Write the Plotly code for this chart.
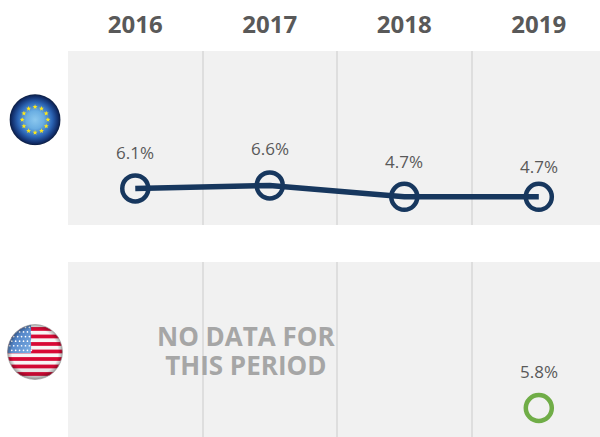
import base64
import math
import plotly.graph_objects as go
from plotly.subplots import make_subplots

YEARS = ["2016", "2017", "2018", "2019"]
EU_VALUES = [6.1, 6.6, 4.7, 4.7]
US_YEARS = ["2019"]
US_VALUES = [5.8]
NO_DATA_LINES = ["NO DATA FOR", "THIS PERIOD"]

W, H = 600, 437
NAVY = "#17375e"
GREEN = "#70ad47"
TEXT = "#595959"
PANEL = "#f1f1f1"
GRID = "#dedede"
EU_LABEL_SHIFTS = [36, 37, 35, 30]


def star(cx, cy, r):
    pts = []
    for i in range(10):
        a = -math.pi / 2 + i * math.pi / 5
        rr = r if i % 2 == 0 else r * 0.42
        pts.append(f"{cx + rr * math.cos(a):.2f},{cy + rr * math.sin(a):.2f}")
    return f'<polygon points="{" ".join(pts)}" fill="#ffe81a"/>'


def eu_flag():
    stars = "".join(
        star(50 + 25 * math.cos(i * math.pi / 6), 50 + 25 * math.sin(i * math.pi / 6), 5)
        for i in range(12)
    )
    svg = (
        '<svg xmlns="http://www.w3.org/2000/svg" width="200" height="200" viewBox="0 0 100 100">'
        '<defs><radialGradient id="g" cx="50%" cy="50%" r="50%">'
        '<stop offset="0" stop-color="#8cc8ee"/><stop offset="0.35" stop-color="#6aaee2"/>'
        '<stop offset="0.68" stop-color="#2b64b4"/><stop offset="0.9" stop-color="#12306e"/>'
        '<stop offset="1" stop-color="#0b1c40"/></radialGradient></defs>'
        '<circle cx="50" cy="50" r="49.5" fill="url(#g)"/>' + stars + "</svg>"
    )
    return "data:image/svg+xml;base64," + base64.b64encode(svg.encode()).decode()


def us_flag():
    stripes = ""
    for i in range(8):
        y = 5.5 + i * 13.4
        stripes += f'<rect x="0" y="{y:.1f}" width="100" height="6.7" fill="#d80a36"/>'
    stars = ""
    for r in range(6):
        for c in range(6):
            stars += f'<circle cx="{5 + c * 7 + (r % 2) * 3.5:.1f}" cy="{6 + r * 8.2:.1f}" r="1.5" fill="#ffffff"/>'
    svg = (
        '<svg xmlns="http://www.w3.org/2000/svg" width="200" height="200" viewBox="0 0 100 100">'
        '<defs><clipPath id="c"><circle cx="50" cy="50" r="49"/></clipPath>'
        '<linearGradient id="b" x1="0" y1="0" x2="1" y2="1"><stop offset="0" stop-color="#2f5fae"/>'
        '<stop offset="1" stop-color="#7fb2e6"/></linearGradient>'
        '<radialGradient id="s" cx="50%" cy="50%" r="50%"><stop offset="0.82" stop-color="#000" stop-opacity="0"/>'
        '<stop offset="1" stop-color="#000" stop-opacity="0.35"/></radialGradient>'
        '<linearGradient id="v" x1="0" y1="0" x2="0" y2="1"><stop offset="0.7" stop-color="#000" stop-opacity="0"/>'
        '<stop offset="1" stop-color="#000" stop-opacity="0.15"/></linearGradient></defs>'
        '<g clip-path="url(#c)"><rect width="100" height="100" fill="#f8f6f6"/>' + stripes +
        '<rect x="0" y="0" width="43" height="52" fill="url(#b)"/>' + stars +
        '<rect width="100" height="100" fill="url(#v)"/>'
        '<rect width="100" height="100" fill="url(#s)"/></g>'
        '<circle cx="50" cy="50" r="49" fill="none" stroke="#9a9a9a" stroke-width="1.2"/></svg>'
    )
    return "data:image/svg+xml;base64," + base64.b64encode(svg.encode()).decode()


fig = make_subplots(rows=2, cols=1, shared_xaxes=False)

fig.add_trace(go.Scatter(
    x=YEARS, y=EU_VALUES, mode="lines+markers",
    line=dict(color=NAVY, width=5.5),
    marker=dict(symbol="circle-open", size=26, color=NAVY, line=dict(color=NAVY, width=4.5)),
    showlegend=False, cliponaxis=False,
), row=1, col=1)

fig.add_trace(go.Scatter(
    x=US_YEARS, y=US_VALUES, mode="markers",
    marker=dict(symbol="circle-open", size=26, color=GREEN, line=dict(color=GREEN, width=4.5)),
    showlegend=False, cliponaxis=False,
), row=2, col=1)

x_common = dict(
    type="category", categoryorder="array", categoryarray=YEARS,
    range=[-0.5, 3.455], tickson="boundaries", showgrid=True,
    gridcolor=GRID, gridwidth=2, zeroline=False, showline=False, ticks="",
)
fig.update_layout(
    xaxis=dict(
        x_common, side="top", domain=[68 / W, 1], showticklabels=True,
        tickfont=dict(family="Open Sans", size=24, color=TEXT, weight="bold"),
        ticklabelstandoff=12,
    ),
    xaxis2=dict(x_common, domain=[68 / W, 1], showticklabels=False),
    yaxis=dict(range=[0, 29], domain=[(H - 225) / H, (H - 51) / H], showgrid=False,
               zeroline=False, showticklabels=False),
    yaxis2=dict(range=[0, 35], domain=[0, (H - 262) / H], showgrid=False,
                zeroline=False, showticklabels=False),
    width=W, height=H, margin=dict(l=0, r=0, t=0, b=0),
    paper_bgcolor="#ffffff", plot_bgcolor=PANEL, showlegend=False,
)

label_font = dict(family="Open Sans", size=17, color=TEXT)
annotations = []
for year, value, shift in zip(YEARS, EU_VALUES, EU_LABEL_SHIFTS):
    annotations.append(dict(x=YEARS.index(year), y=value, xref="x", yref="y", text=f"{value}%",
                            showarrow=False, yanchor="middle", yshift=shift, font=label_font))
for year, value in zip(US_YEARS, US_VALUES):
    annotations.append(dict(x=YEARS.index(year), y=value, xref="x2", yref="y2", text=f"{value}%",
                            showarrow=False, yanchor="middle", yshift=37, font=label_font))
no_data_text = "<br>".join(f'<span style="font-size:26px">{line}</span>' for line in NO_DATA_LINES)
annotations.append(dict(
    x=246 / W, y=(H - 350) / H, xref="paper", yref="paper", text=no_data_text,
    showarrow=False, align="center", xanchor="center", yanchor="middle",
    font=dict(family="Open Sans", size=22.3, color="#a6a6a6", weight="bold"),
))
fig.update_layout(annotations=annotations)

fig.update_layout(images=[
    dict(source=eu_flag(), xref="paper", yref="paper", x=9.3 / W, y=(H - 94) / H,
         sizex=51.5 / W, sizey=51.5 / H, sizing="stretch", xanchor="left", yanchor="top", layer="above"),
    dict(source=us_flag(), xref="paper", yref="paper", x=7 / W, y=(H - 324) / H,
         sizex=56 / W, sizey=56 / H, sizing="stretch", xanchor="left", yanchor="top", layer="above"),
])

fig.write_html("out.html", config=dict(displayModeBar=False),
               post_script="document.body.style.margin='0';document.documentElement.style.overflow='hidden';")
